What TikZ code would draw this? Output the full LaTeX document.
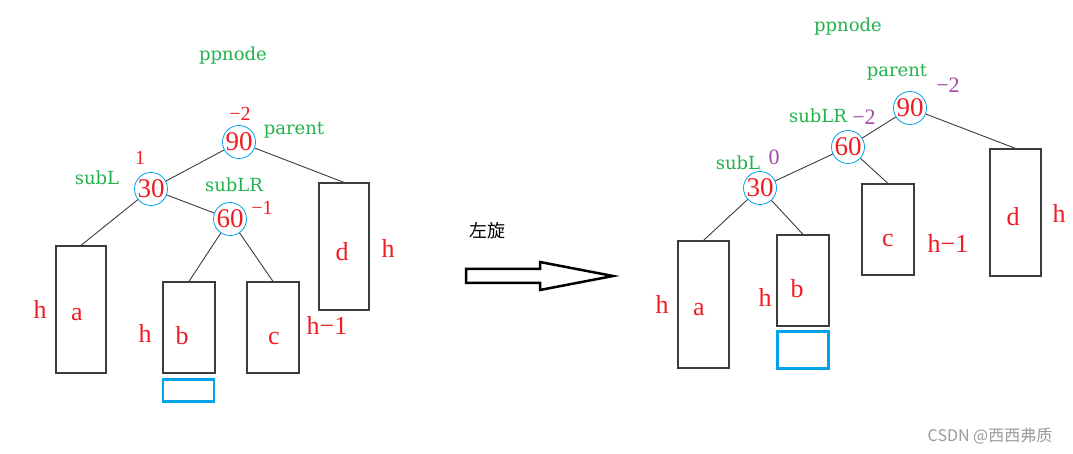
\documentclass[tikz,border=0pt]{standalone}
\usepackage{fontspec}
\setmainfont{Liberation Serif}
\newfontfamily\lblfont{DejaVu Serif}
\newfontfamily\cjkfont{Noto Sans CJK SC}
\definecolor{cred}{RGB}{240,28,36}
\definecolor{cgreen}{RGB}{34,177,76}
\definecolor{cblue}{RGB}{0,162,232}
\definecolor{cpurple}{RGB}{163,73,164}
\definecolor{cline}{RGB}{60,60,60}
\tikzset{
  circ/.style={circle,draw=cblue,line width=0.8pt,minimum size=33pt,inner sep=0pt,text=cred,font=\fontsize{27}{27}\selectfont},
  tbox/.style={rectangle,draw=cline,line width=1.2pt,inner sep=0pt},
  letter/.style={text=cred,font=\fontsize{26}{26}\selectfont,inner sep=0pt},
  glbl/.style={text=cgreen,font=\lblfont\fontsize{18}{18}\selectfont,inner sep=0pt},
  rnum/.style={text=cred,font=\fontsize{20}{20}\selectfont,inner sep=0pt},
  pnum/.style={text=cpurple,font=\fontsize{22}{22}\selectfont,inner sep=0pt},
  conn/.style={draw=cline,line width=0.9pt},
  newbox/.style={rectangle,draw=cblue,line width=2.6pt,inner sep=0pt},
}
\begin{document}
\begin{tikzpicture}[x=1pt,y=-1pt]
\useasboundingbox (0,0) rectangle (1073,454);
% ---------------- left tree ----------------
\node[glbl] (lpp) at (233,56) {ppnode};
\node[circ] (l90) at (239,142) {90};
\node[rnum] (l90b) at (240,114) {−2};
\node[glbl] (lpar) at (294,130) {parent};
\node[circ] (l30) at (151,189) {30};
\node[rnum] (l30b) at (140,158) {1};
\node[glbl] (lsubl) at (97,178) {subL};
\node[circ] (l60) at (230,219) {60};
\node[glbl] (lsublr) at (234,185) {subLR};
\node[rnum] (l60b) at (262,208) {−1};
\node[tbox,minimum width=50pt,minimum height=127pt] (la) at (81,309.5) {};
\node[tbox,minimum width=52pt,minimum height=91pt] (lb) at (189,327.5) {};
\node[tbox,minimum width=52pt,minimum height=91pt] (lc) at (273,327.5) {};
\node[tbox,minimum width=50pt,minimum height=127pt] (ld) at (344,246.5) {};
\node[newbox,minimum width=51pt,minimum height=22pt] (lnew) at (188.5,390.5) {};
\node[letter] (lat) at (77,315) {a};
\node[letter] (lbt) at (182,336) {b};
\node[letter] (lct) at (274,339) {c};
\node[letter] (ldt) at (342,252) {d};
\node[letter] (lah) at (40,309) {h};
\node[letter] (lbh) at (145,333) {h};
\node[letter] (lch) at (327,325) {h−1};
\node[letter] (ldh) at (388,248) {h};
\draw[conn] (l90) -- (ld.north);
\draw[conn] (l90) -- (l30);
\draw[conn] (l30) -- (l60);
\draw[conn] (l30) -- (la.north);
\draw[conn] (l60) -- (lb.north);
\draw[conn] (l60) -- (lc.north);
% ---------------- arrow ----------------
\node[font=\cjkfont\fontsize{18}{18}\selectfont,inner sep=0pt] (rot) at (487,231) {左旋};
\draw[line width=2.5pt,line join=miter] (466,269) -- (540,269) -- (540,262) -- (613,276) -- (540,290) -- (540,283) -- (466,283) -- cycle;
% ---------------- right tree ----------------
\node[glbl] (rpp) at (848,27) {ppnode};
\node[glbl] (rpar) at (897,72) {parent};
\node[circ] (r90) at (910,108) {90};
\node[pnum] (r90b) at (948,85) {−2};
\node[glbl] (rsublr) at (818,116) {subLR};
\node[pnum] (r60b) at (864,117) {−2};
\node[circ] (r60) at (848,147) {60};
\node[glbl] (rsubl) at (738,163) {subL};
\node[pnum] (r30b) at (774,157) {0};
\node[circ] (r30) at (760,188) {30};
\node[tbox,minimum width=51pt,minimum height=127pt] (ra) at (703.5,304.5) {};
\node[tbox,minimum width=52pt,minimum height=91pt] (rb) at (803,280.5) {};
\node[tbox,minimum width=52pt,minimum height=91pt] (rc) at (888,229.5) {};
\node[tbox,minimum width=51pt,minimum height=127pt] (rd) at (1015.5,212.5) {};
\node[newbox,minimum width=51pt,minimum height=37pt] (rnew) at (803,350) {};
\node[letter] (rat) at (699,310) {a};
\node[letter] (rbt) at (797,289) {b};
\node[letter] (rct) at (888,241) {c};
\node[letter] (rdt) at (1013,217) {d};
\node[letter] (rah) at (662,304) {h};
\node[letter] (rbh) at (765,297) {h};
\node[letter] (rch) at (948,243) {h−1};
\node[letter] (rdh) at (1059,213) {h};
\draw[conn] (r90) -- (r60);
\draw[conn] (r90) -- (rd.north);
\draw[conn] (r60) -- (r30);
\draw[conn] (r60) -- (rc.north);
\draw[conn] (r30) -- (ra.north);
\draw[conn] (r30) -- (rb.north);
% watermark
\node[text=black!40,font=\cjkfont\fontsize{16}{16}\selectfont,inner sep=0pt] (wm) at (990,436) {CSDN @西西弗质};
\end{tikzpicture}
\end{document}
